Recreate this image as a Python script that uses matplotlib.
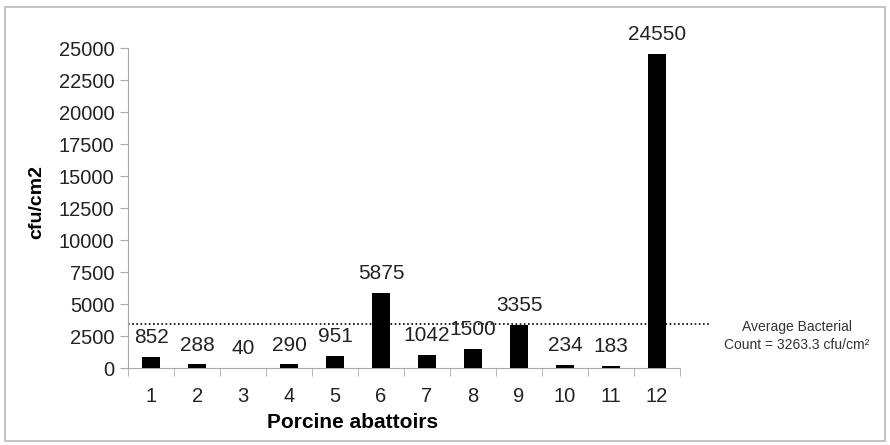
import matplotlib
matplotlib.use("Agg")
import matplotlib.pyplot as plt
from matplotlib.patches import Rectangle

plt.rcParams['font.family'] = ['Liberation Sans', 'DejaVu Sans']

categories = ['1', '2', '3', '4', '5', '6', '7', '8', '9', '10', '11', '12']
values = [852, 288, 40, 290, 951, 5875, 1042, 1500, 3355, 234, 183, 24550]
avg_line = 3450
avg_text = "Average Bacterial\nCount = 3263.3 cfu/cm\u00b2"
yticks = list(range(0, 25001, 2500))

fig = plt.figure(figsize=(8.9, 4.45), dpi=100)
ax = fig.add_axes([0.144, 0.173, 0.62, 0.719])

x = list(range(len(categories)))
ax.bar(x, values, width=0.4, color='black', zorder=3)
for xi, v in zip(x, values):
    ax.annotate(str(v), (xi, v), xytext=(0, 7), textcoords='offset points',
                ha='center', va='bottom', fontsize=15, color='#222222')

ax.set_xlim(-0.5, len(categories) - 0.5)
ax.set_ylim(0, 25000)
ax.set_yticks(yticks)
ax.set_yticklabels([str(t) for t in yticks], fontsize=14.5, color='#222222')
ax.set_xticks(x)
ax.set_xticklabels(categories, fontsize=14.5, color='#222222')
ax.set_xticks([i + 0.5 for i in range(-1, len(categories))], minor=True)
ax.tick_params(axis='x', which='major', length=0, pad=14)
ax.tick_params(axis='x', which='minor', length=6, color='#aaaaaa', direction='out')
ax.tick_params(axis='y', length=6, color='#aaaaaa', direction='out', pad=4)

for s in ['top', 'right']:
    ax.spines[s].set_visible(False)
for s in ['left', 'bottom']:
    ax.spines[s].set_color('#aaaaaa')

ax.set_xlabel('Porcine abattoirs', fontsize=15, fontweight='bold')
ax.xaxis.set_label_coords(0.406, -0.142)
ax.set_ylabel('cfu/cm2', fontsize=14, fontweight='bold')
ax.yaxis.set_label_coords(-0.150, 0.52)

# average dotted line extending beyond axes
ax.plot([-0.5, 12.15], [avg_line, avg_line], linestyle=(0, (1, 1.5)), color='black',
        linewidth=1.2, clip_on=False, zorder=2)
fig.text(0.895, 0.245, avg_text, ha='center', va='center', fontsize=10,
         color='#333333', linespacing=1.3)

fig.patches.append(Rectangle((0.006, 0.01), 0.988, 0.975, transform=fig.transFigure,
                             fill=False, edgecolor='#bbbbbb', linewidth=1.2))

fig.savefig('out.png', dpi=100)
